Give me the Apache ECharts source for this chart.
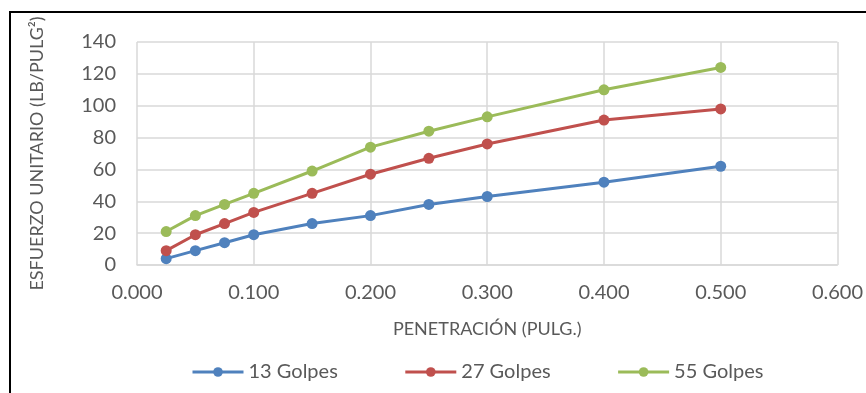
<!DOCTYPE html>
<html>
<head>
<meta charset="utf-8">
<script src="https://cdn.jsdelivr.net/npm/echarts@6/dist/echarts.min.js"></script>
<style>
  html, body { margin: 0; padding: 0; background: #fff; }
  #chart { width: 866px; height: 393px; }
</style>
</head>
<body>
<div id="chart"></div>
<script>
// Penetración (pulg.) and esfuerzo unitario (lb/pulg²) per compaction energy
const penetracion = [0.025, 0.05, 0.075, 0.1, 0.15, 0.2, 0.25, 0.3, 0.4, 0.5];
const golpes13 = [4, 9, 14, 19, 26, 31, 38, 43, 52, 62];
const golpes27 = [9, 19, 26, 33, 45, 57, 67, 76, 91, 98];
const golpes55 = [21, 31, 38, 45, 59, 74, 84, 93, 110, 124];
const seriesNames = ['13 Golpes', '27 Golpes', '55 Golpes'];
const seriesColors = ['#4F81BD', '#C0504D', '#9BBB59'];

const textColor = '#595959';
const fontFamily = 'Lato, "Open Sans", sans-serif';
const gridColor = '#D9D9D9';

function pairs(values) {
  return penetracion.map((x, i) => [x, values[i]]);
}

const chart = echarts.init(document.getElementById('chart'));
const allValues = [golpes13, golpes27, golpes55];

chart.setOption({
  animation: false,
  backgroundColor: '#fff',
  textStyle: { fontFamily: fontFamily, color: textColor },
  graphic: [{
    type: 'rect',
    shape: { x: 10, y: 12, width: 900, height: 500 },
    style: { fill: 'none', stroke: '#000', lineWidth: 2 },
    silent: true,
    z: 100
  }],
  grid: { left: 137, right: 28, top: 42, bottom: 128 },
  legend: {
    left: 186,
    top: 357,
    itemWidth: 51,
    itemHeight: 12,
    itemGap: 66,
    data: seriesNames,
    lineStyle: { width: 3 },
    textStyle: { fontFamily: fontFamily, fontSize: 20, color: textColor }
  },
  xAxis: {
    type: 'value',
    min: 0,
    max: 0.6,
    interval: 0.1,
    name: 'PENETRACIÓN (PULG.)',
    nameLocation: 'middle',
    nameGap: 55,
    nameTextStyle: { fontFamily: fontFamily, fontSize: 18, color: textColor },
    axisLine: { show: true, lineStyle: { color: gridColor, width: 1.5 } },
    axisTick: { show: false },
    axisLabel: {
      margin: 18,
      fontSize: 20,
      color: textColor,
      formatter: v => v.toFixed(3)
    },
    splitLine: { show: true, lineStyle: { color: gridColor, width: 1.5 } }
  },
  yAxis: {
    type: 'value',
    min: 0,
    max: 140,
    interval: 20,
    name: 'ESFUERZO UNITARIO (LB/PULG²)',
    nameLocation: 'middle',
    nameGap: 91,
    nameTextStyle: { fontFamily: fontFamily, fontSize: 18, color: textColor },
    axisLine: { show: false },
    axisTick: { show: false },
    axisLabel: { margin: 21, fontSize: 20, color: textColor },
    splitLine: { show: true, lineStyle: { color: gridColor, width: 1.5 } }
  },
  series: allValues.map((vals, i) => ({
    name: seriesNames[i],
    type: 'line',
    data: pairs(vals),
    symbol: 'circle',
    symbolSize: 11,
    smooth: false,
    lineStyle: { color: seriesColors[i], width: 3 },
    itemStyle: { color: seriesColors[i] }
  }))
});
</script>
</body>
</html>
